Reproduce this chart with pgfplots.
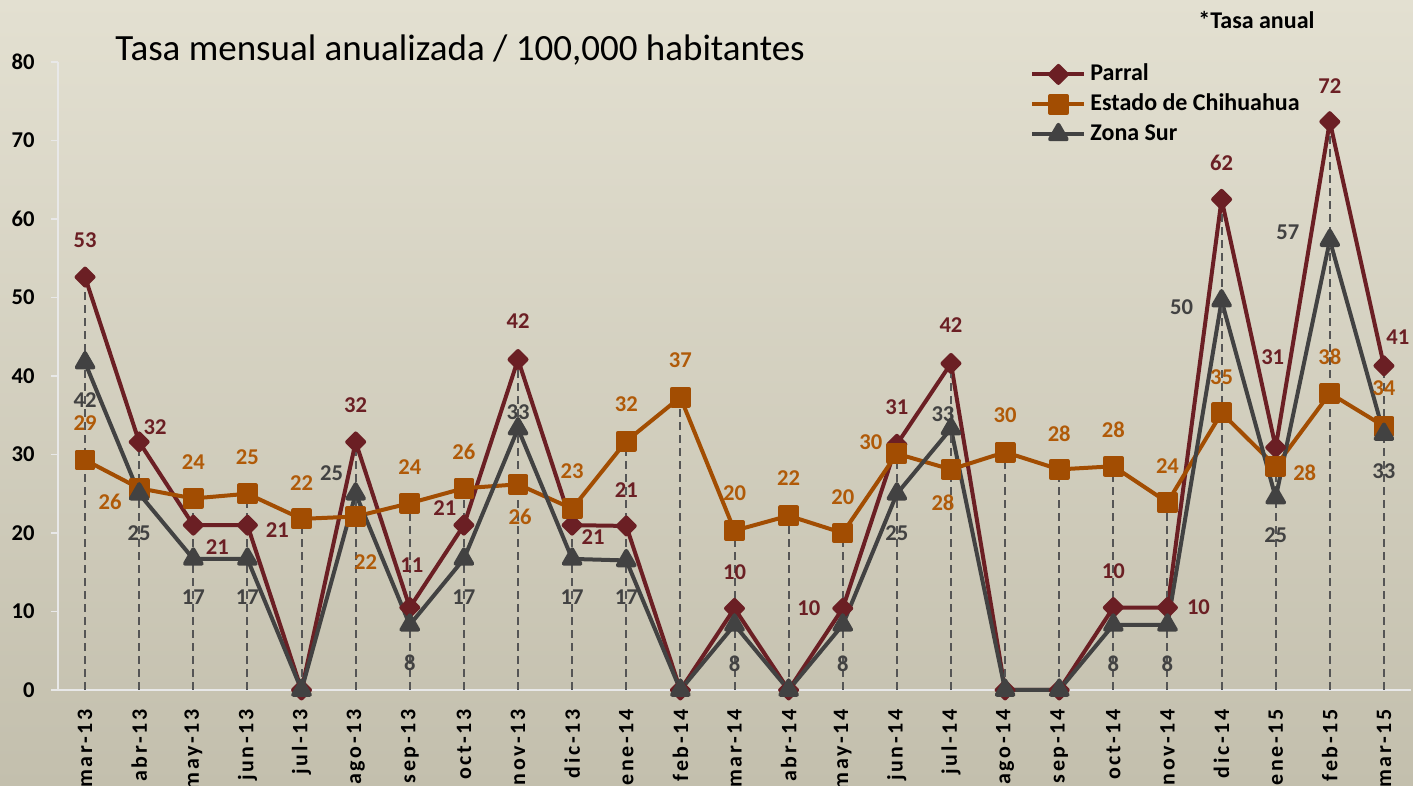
\documentclass[border=0pt]{standalone}
\usepackage{pgfplots}
\pgfplotsset{compat=1.18}
\usepackage{pgfplotstable}
\usepackage{fontspec}
\setmainfont{Carlito}
\newfontfamily\xlab{Carlito}[LetterSpace=12]
\definecolor{parral}{HTML}{6B1F24}
\definecolor{estado}{HTML}{A24D02}
\definecolor{estadolbl}{HTML}{B05A08}
\definecolor{zona}{HTML}{424242}
\definecolor{dropc}{HTML}{555555}
\definecolor{bgtop}{HTML}{E3E0D1}
\definecolor{bgbot}{HTML}{C3BFAD}
\definecolor{axcol}{HTML}{E8E8E8}

\pgfplotstableread{
x y lbl dx dy
0 52.6 53 0 18.5
1 31.6 32 8 7.5
2 21.0 21 12 -11
3 21.0 21 15 -2.5
4 0 {} 0 0
5 31.6 32 0 18.5
6 10.5 11 1 21
7 21.0 21 -9.5 8.5
8 42.1 42 0 19
9 21.0 21 10.5 -6
10 20.9 21 0 18
11 0 {} 0 0
12 10.4 10 0 18
13 0 {} 0 0
14 10.4 10 -17 0
15 31.3 31 0 18.5
16 41.6 42 0 19
17 0 {} 0 0
18 0 {} 0 0
19 10.5 10 0 18
20 10.5 10 15.5 0
21 62.5 62 0 18.5
22 30.9 31 -1.5 45
23 72.4 72 0 18
24 41.3 41 7 14.5
}\parral

\pgfplotstableread{
x y lbl dx dy
0 29.3 29 0 18.5
1 25.7 26 -14.5 -7
2 24.4 24 0 18
3 25.0 25 0 18.5
4 21.8 22 0 18
5 22.1 22 5 -23
6 23.8 24 0 18
7 25.7 26 0 18
8 26.2 26 1 -16.5
9 23.1 23 0 18.5
10 31.7 32 0 18.5
11 37.3 37 0 18.5
12 20.3 20 0 18.5
13 22.2 22 0 19
14 20.0 20 0 18
15 30.1 30 -13 6
16 28.1 28 -4 -16.5
17 30.3 30 0 18.5
18 28.1 28 0 18
19 28.5 28 0 18
20 23.9 24 0 18
21 35.3 35 0 18
22 28.5 28 14.5 -3.5
23 37.8 38 0 18
24 33.6 34 0 19
}\estado

\pgfplotstableread{
x y lbl dx dy
0 41.7 42 0 -18.5
1 25.0 25 0 -19.5
2 16.7 17 0 -19
3 16.7 17 0 -19
4 0 {} 0 0
5 25.0 25 -12 10.5
6 8.3 8 0 -19
7 16.7 17 0 -19
8 33.3 33 0 8
9 16.7 17 0 -19
10 16.5 17 0 -18.5
11 0 {} 0 0
12 8.3 8 0 -19.5
13 0 {} 0 0
14 8.3 8 0 -19.5
15 25.0 25 0 -19.5
16 33.3 33 -4 7
17 0 {} 0 0
18 0 {} 0 0
19 8.3 8 0 -19.5
20 8.3 8 0 -19.5
21 49.6 50 -20 -3.5
22 24.5 25 0 -18.5
23 57.3 57 -21 4
24 32.6 33 0 -18.5
}\zona

\pgfplotstableread{
x y
0 52.6
1 31.6
2 24.4
3 25.0
4 21.8
5 31.6
6 23.8
7 25.7
8 42.1
9 23.1
10 31.7
11 37.3
12 20.3
13 22.2
14 20.0
15 31.3
16 41.6
17 30.3
18 28.1
19 28.5
20 23.9
21 62.5
22 30.9
23 72.4
24 41.3
}\dropmax

\pgfplotsset{
  lbls/.style={draw=none, mark=none, forget plot,
    point meta=explicit symbolic,
    nodes near coords,
    visualization depends on={\thisrow{dx}\as\ldx},
    visualization depends on={\thisrow{dy}\as\ldy},
    every node near coord/.append style={anchor=center, inner sep=0pt,
      xshift=\ldx pt, yshift=\ldy pt, text=#1,
      font=\bfseries\fontsize{11.3}{13}\selectfont}},
}

\begin{document}
\begin{tikzpicture}
\shade[top color=bgtop, bottom color=bgbot] (-29pt,-48pt) rectangle (677.5pt,345pt);
\begin{axis}[name=ax, at={(0,0)}, anchor=south west, scale only axis,
  width=676.5pt, height=314pt,
  xmin=-0.5, xmax=24.5, ymin=0, ymax=80, clip=false,
  ytick={0,10,...,80},
  xtick={0,...,24},
  xticklabels={mar-13,abr-13,may-13,jun-13,jul-13,ago-13,sep-13,oct-13,nov-13,dic-13,ene-14,feb-14,mar-14,abr-14,may-14,jun-14,jul-14,ago-14,sep-14,oct-14,nov-14,dic-14,ene-15,feb-15,mar-15},
  axis x line*=bottom, axis y line*=left,
  axis line style={draw=axcol, line width=1pt, -},
  tick align=outside, major tick length=3.5pt,
  ytick style={draw=axcol, line width=0.8pt},
  xtick style={draw=none},
  /pgf/number format/assume math mode=true,
  yticklabel style={font=\bfseries\fontsize{11.3}{13}\selectfont, anchor=east, inner sep=0pt, xshift=-8pt},
  xticklabel style={font=\xlab\bfseries\fontsize{11}{13}\selectfont, rotate=90, anchor=east, inner sep=0pt},
  xticklabel shift=6pt,
  legend style={at={(rel axis cs:0.7184,1)}, anchor=north west, yshift=1.5pt,
    draw=none, fill=none, inner sep=0pt,
    font=\bfseries\fontsize{12}{14}\selectfont,
    nodes={text height=8.5pt, text depth=2.5pt, inner sep=2pt},
    cells={anchor=west}},
  legend image code/.code={\draw[mark repeat=2,mark phase=2,#1] plot coordinates {(0pt,0pt) (13pt,0pt) (26pt,0pt)};},
]
\addplot[parral, line width=2pt, line join=round, mark=square*, mark size=3pt, mark options={rotate=45, solid}] table[x=x,y=y] {\parral};
\addlegendentry{Parral}
\addplot[estado, line width=2pt, line join=round, mark=square*, mark size=4.2pt, mark options={solid}] table[x=x,y=y] {\estado};
\addlegendentry{Estado de Chihuahua}
\addplot[zona, line width=2pt, line join=round, mark=triangle*, mark size=4.8pt, mark options={solid}] table[x=x,y=y] {\zona};
\addlegendentry{Zona Sur}
\addplot[ycomb, dropc, line width=1pt, dash pattern=on 4pt off 2.5pt, mark=none, forget plot] table[x=x,y=y] {\dropmax};
\addplot[lbls=parral] table[x=x,y=y,meta=lbl] {\parral};
\addplot[lbls=estadolbl] table[x=x,y=y,meta=lbl] {\estado};
\addplot[lbls=zona] table[x=x,y=y,meta=lbl] {\zona};
\end{axis}
\node[anchor=base west, inner sep=0pt, font=\fontsize{18.5}{22}\selectfont] at ([xshift=28.5pt, yshift=1pt]ax.north west) {Tasa mensual anualizada / 100,000 habitantes};
\node[anchor=base west, inner sep=0pt, font=\bfseries\fontsize{12}{14}\selectfont] at ([xshift=570pt, yshift=17pt]ax.north west) {*Tasa anual};
\pgfresetboundingbox
\path[use as bounding box] (-29pt,-48pt) rectangle (677.5pt,345pt);
\end{tikzpicture}
\end{document}
